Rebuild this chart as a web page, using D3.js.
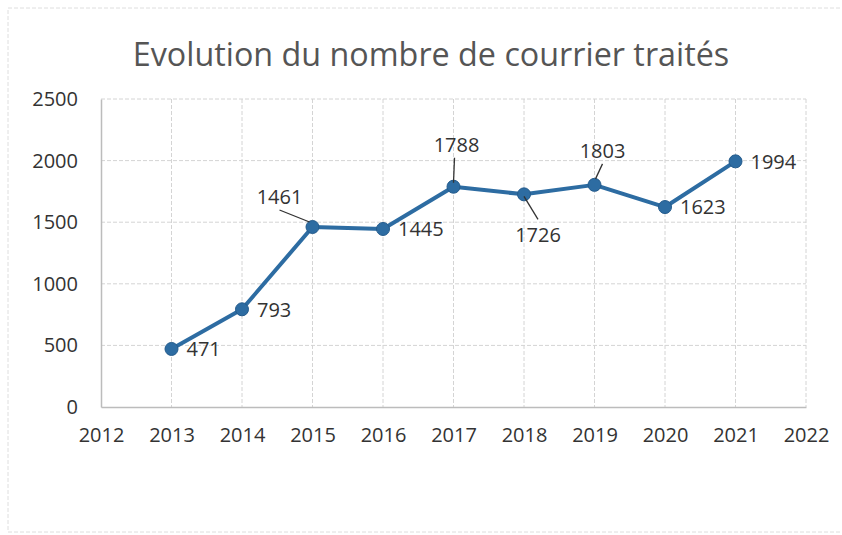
<!DOCTYPE html>
<html>
<head>
<meta charset="utf-8">
<script src="https://cdn.jsdelivr.net/npm/d3@7"></script>
<style>
  body { margin: 0; background: #fff; }
  text { font-family: "Open Sans", "Liberation Sans", Arial, sans-serif; }
</style>
</head>
<body>
<div id="chart"></div>
<script>
// chart data
var years = [2013, 2014, 2015, 2016, 2017, 2018, 2019, 2020, 2021];
var courriers = [471, 793, 1461, 1445, 1788, 1726, 1803, 1623, 1994];
// where each data label sits relative to its point
var labelPlace = ["right", "right", "aboveLeft", "right", "above", "below", "aboveRight", "right", "right"];
var xTicks = [2012, 2013, 2014, 2015, 2016, 2017, 2018, 2019, 2020, 2021, 2022];
var yTicks = [0, 500, 1000, 1500, 2000, 2500];

var svgWidth = 842;
var svgHeight = 535;

var margin = { top: 99, right: 36, bottom: 128, left: 101 };
var width = svgWidth - margin.left - margin.right;
var height = svgHeight - margin.top - margin.bottom;

var svg = d3.select("#chart")
  .append("svg")
  .attr("width", svgWidth)
  .attr("height", svgHeight);

// outer chart frame (faint, like the scan)
svg.append("rect")
  .attr("x", 8)
  .attr("y", 8)
  .attr("width", 850)
  .attr("height", 524)
  .attr("fill", "none")
  .attr("stroke", "#dedede")
  .attr("stroke-dasharray", "4,2");

// title
svg.append("text")
  .attr("x", 431)
  .attr("y", 66)
  .attr("text-anchor", "middle")
  .style("font-size", "32.3px")
  .style("fill", "#555")
  .text("Evolution du nombre de courrier traités");

var chartGroup = svg.append("g")
  .attr("transform", `translate(${margin.left}, ${margin.top})`);

var xScale = d3.scaleLinear()
  .domain([2012, 2022])
  .range([0, width]);

var yScale = d3.scaleLinear()
  .domain([0, 2500])
  .range([height, 0]);

// gridlines
chartGroup.append("g")
  .selectAll("line")
  .data(yTicks.filter(d => d > 0))
  .enter()
  .append("line")
  .attr("x1", 0)
  .attr("x2", width)
  .attr("y1", d => yScale(d))
  .attr("y2", d => yScale(d))
  .attr("stroke", "#d4d4d4")
  .attr("stroke-dasharray", "4,2");

chartGroup.append("g")
  .selectAll("line")
  .data(xTicks.filter(d => d > 2012))
  .enter()
  .append("line")
  .attr("x1", d => xScale(d))
  .attr("x2", d => xScale(d))
  .attr("y1", 0)
  .attr("y2", height)
  .attr("stroke", "#d4d4d4")
  .attr("stroke-dasharray", "4,2");

// axes
var bottomAxis = d3.axisBottom(xScale)
  .tickValues(xTicks)
  .tickFormat(d3.format("d"))
  .tickSize(0)
  .tickPadding(21);

var leftAxis = d3.axisLeft(yScale)
  .tickValues(yTicks)
  .tickFormat(d3.format("d"))
  .tickSize(0)
  .tickPadding(23);

var xAxis = chartGroup.append("g")
  .attr("transform", `translate(0, ${height})`)
  .call(bottomAxis);

var yAxis = chartGroup.append("g")
  .call(leftAxis);

[xAxis, yAxis].forEach(function(ax) {
  ax.select(".domain").attr("stroke", "#bcbcbc").attr("stroke-width", 1.5);
  ax.selectAll("text")
    .style("font-size", "20px")
    .style("font-family", "Open Sans, Liberation Sans, Arial, sans-serif")
    .style("fill", "#333");
});

// line + markers
var line = d3.line()
  .x((d, i) => xScale(years[i]))
  .y(d => yScale(d));

chartGroup.append("path")
  .datum(courriers)
  .attr("d", line)
  .attr("fill", "none")
  .attr("stroke", "#2d6ca2")
  .attr("stroke-width", 4)
  .attr("stroke-linejoin", "round");

chartGroup.selectAll("circle")
  .data(courriers)
  .enter()
  .append("circle")
  .attr("cx", (d, i) => xScale(years[i]))
  .attr("cy", d => yScale(d))
  .attr("r", 6.5)
  .attr("fill", "#2d6ca2")
  .attr("stroke", "#245b8c")
  .attr("stroke-width", 1);

// label offsets per placement: text centre + optional leader line
var placeOffsets = {
  right: { dx: 15, dy: 0, anchor: "start", leader: null },
  aboveLeft: { dx: -33, dy: -30, anchor: "middle", leader: [-33, -17, -3, -5] },
  above: { dx: 3, dy: -42, anchor: "middle", leader: [1, -29, 0, -4] },
  below: { dx: 14, dy: 40, anchor: "middle", leader: [0, 2, 14, 25] },
  aboveRight: { dx: 8, dy: -34, anchor: "middle", leader: [8, -21, 1, -6] }
};

courriers.forEach(function(v, i) {
  var px = xScale(years[i]);
  var py = yScale(v);
  var p = placeOffsets[labelPlace[i]];
  if (p.leader) {
    chartGroup.append("line")
      .attr("x1", px + p.leader[0])
      .attr("y1", py + p.leader[1])
      .attr("x2", px + p.leader[2])
      .attr("y2", py + p.leader[3])
      .attr("stroke", "#333")
      .attr("stroke-width", 1.3);
  }
  chartGroup.append("text")
    .attr("x", px + p.dx)
    .attr("y", py + p.dy)
    .attr("dy", "0.36em")
    .attr("text-anchor", p.anchor)
    .style("font-size", "20px")
    .style("fill", "#333")
    .text(v);
});
</script>
</body>
</html>
